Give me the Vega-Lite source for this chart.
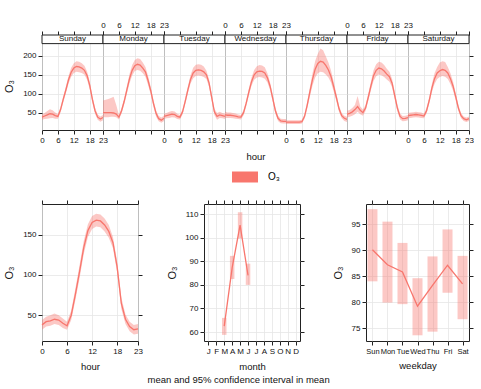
{
"$schema":"https://vega.github.io/schema/vega-lite/v6.json",
"padding":{"left":3,"top":20,"right":0,"bottom":0},
"config":{"font":"Liberation Sans","view":{"stroke":"#222","strokeWidth":1},
"axis":{"domain":false,"tickColor":"#222","tickSize":4,"labelFontSize":8,"labelColor":"#111","titleFontSize":9.5,"titleFontWeight":"normal","titleColor":"#111","grid":false,"gridColor":"#e6e6e6","gridWidth":0.8,"labelOverlap":false,"labelBound":false,"labelFlush":false,"labelPadding":2},
"axisY":{"titleFontSize":11}},
"datasets":{
"dh":[
{"d":"Sunday","h":0,"m":38,"lo":31,"hi":45},{"d":"Sunday","h":1,"m":41,"lo":33,"hi":49},{"d":"Sunday","h":2,"m":44,"lo":34,"hi":54},{"d":"Sunday","h":3,"m":47,"lo":35,"hi":59},{"d":"Sunday","h":4,"m":46,"lo":36,"hi":56},{"d":"Sunday","h":5,"m":42,"lo":34,"hi":50},{"d":"Sunday","h":6,"m":40,"lo":34,"hi":46},{"d":"Sunday","h":7,"m":58,"lo":51,"hi":65},{"d":"Sunday","h":8,"m":85,"lo":77,"hi":93},{"d":"Sunday","h":9,"m":110,"lo":101,"hi":119},{"d":"Sunday","h":10,"m":137,"lo":127,"hi":147},{"d":"Sunday","h":11,"m":157,"lo":145,"hi":169},{"d":"Sunday","h":12,"m":168,"lo":155,"hi":181},{"d":"Sunday","h":13,"m":172,"lo":158,"hi":186},{"d":"Sunday","h":14,"m":171,"lo":157,"hi":185},{"d":"Sunday","h":15,"m":168,"lo":155,"hi":181},{"d":"Sunday","h":16,"m":162,"lo":150,"hi":174},{"d":"Sunday","h":17,"m":148,"lo":137,"hi":159},{"d":"Sunday","h":18,"m":122,"lo":112,"hi":132},{"d":"Sunday","h":19,"m":85,"lo":76,"hi":94},{"d":"Sunday","h":20,"m":55,"lo":47,"hi":63},{"d":"Sunday","h":21,"m":38,"lo":31,"hi":45},{"d":"Sunday","h":22,"m":33,"lo":26,"hi":40},{"d":"Sunday","h":23,"m":37,"lo":30,"hi":44},
{"d":"Monday","h":0,"m":50,"lo":38,"hi":82},{"d":"Monday","h":1,"m":50,"lo":38,"hi":84},{"d":"Monday","h":2,"m":50,"lo":38,"hi":86},{"d":"Monday","h":3,"m":50,"lo":39,"hi":89},{"d":"Monday","h":4,"m":49,"lo":39,"hi":92},{"d":"Monday","h":5,"m":46,"lo":38,"hi":70},{"d":"Monday","h":6,"m":38,"lo":32,"hi":44},{"d":"Monday","h":7,"m":55,"lo":48,"hi":62},{"d":"Monday","h":8,"m":80,"lo":72,"hi":88},{"d":"Monday","h":9,"m":110,"lo":100,"hi":120},{"d":"Monday","h":10,"m":140,"lo":128,"hi":152},{"d":"Monday","h":11,"m":162,"lo":148,"hi":176},{"d":"Monday","h":12,"m":174,"lo":160,"hi":189},{"d":"Monday","h":13,"m":178,"lo":163,"hi":194},{"d":"Monday","h":14,"m":176,"lo":161,"hi":192},{"d":"Monday","h":15,"m":168,"lo":154,"hi":183},{"d":"Monday","h":16,"m":158,"lo":145,"hi":171},{"d":"Monday","h":17,"m":135,"lo":123,"hi":147},{"d":"Monday","h":18,"m":108,"lo":98,"hi":118},{"d":"Monday","h":19,"m":75,"lo":66,"hi":84},{"d":"Monday","h":20,"m":48,"lo":40,"hi":56},{"d":"Monday","h":21,"m":34,"lo":27,"hi":41},{"d":"Monday","h":22,"m":30,"lo":23,"hi":37},{"d":"Monday","h":23,"m":35,"lo":28,"hi":42},
{"d":"Tuesday","h":0,"m":40,"lo":33,"hi":47},{"d":"Tuesday","h":1,"m":42,"lo":35,"hi":49},{"d":"Tuesday","h":2,"m":44,"lo":36,"hi":52},{"d":"Tuesday","h":3,"m":46,"lo":38,"hi":54},{"d":"Tuesday","h":4,"m":45,"lo":37,"hi":53},{"d":"Tuesday","h":5,"m":40,"lo":33,"hi":47},{"d":"Tuesday","h":6,"m":38,"lo":32,"hi":44},{"d":"Tuesday","h":7,"m":52,"lo":45,"hi":59},{"d":"Tuesday","h":8,"m":80,"lo":72,"hi":88},{"d":"Tuesday","h":9,"m":110,"lo":101,"hi":119},{"d":"Tuesday","h":10,"m":138,"lo":127,"hi":149},{"d":"Tuesday","h":11,"m":155,"lo":141,"hi":169},{"d":"Tuesday","h":12,"m":162,"lo":147,"hi":177},{"d":"Tuesday","h":13,"m":163,"lo":148,"hi":178},{"d":"Tuesday","h":14,"m":162,"lo":147,"hi":177},{"d":"Tuesday","h":15,"m":158,"lo":144,"hi":172},{"d":"Tuesday","h":16,"m":150,"lo":139,"hi":161},{"d":"Tuesday","h":17,"m":128,"lo":118,"hi":138},{"d":"Tuesday","h":18,"m":90,"lo":81,"hi":99},{"d":"Tuesday","h":19,"m":52,"lo":44,"hi":60},{"d":"Tuesday","h":20,"m":40,"lo":31,"hi":49},{"d":"Tuesday","h":21,"m":44,"lo":36,"hi":52},{"d":"Tuesday","h":22,"m":42,"lo":35,"hi":49},{"d":"Tuesday","h":23,"m":40,"lo":33,"hi":47},
{"d":"Wednesday","h":0,"m":44,"lo":36,"hi":52},{"d":"Wednesday","h":1,"m":43,"lo":36,"hi":50},{"d":"Wednesday","h":2,"m":43,"lo":36,"hi":50},{"d":"Wednesday","h":3,"m":42,"lo":35,"hi":49},{"d":"Wednesday","h":4,"m":41,"lo":34,"hi":48},{"d":"Wednesday","h":5,"m":39,"lo":33,"hi":45},{"d":"Wednesday","h":6,"m":38,"lo":32,"hi":44},{"d":"Wednesday","h":7,"m":50,"lo":43,"hi":57},{"d":"Wednesday","h":8,"m":75,"lo":67,"hi":83},{"d":"Wednesday","h":9,"m":105,"lo":96,"hi":114},{"d":"Wednesday","h":10,"m":132,"lo":121,"hi":143},{"d":"Wednesday","h":11,"m":150,"lo":137,"hi":163},{"d":"Wednesday","h":12,"m":158,"lo":143,"hi":173},{"d":"Wednesday","h":13,"m":160,"lo":144,"hi":176},{"d":"Wednesday","h":14,"m":159,"lo":143,"hi":175},{"d":"Wednesday","h":15,"m":155,"lo":140,"hi":170},{"d":"Wednesday","h":16,"m":142,"lo":130,"hi":154},{"d":"Wednesday","h":17,"m":120,"lo":110,"hi":130},{"d":"Wednesday","h":18,"m":88,"lo":79,"hi":97},{"d":"Wednesday","h":19,"m":55,"lo":47,"hi":63},{"d":"Wednesday","h":20,"m":35,"lo":28,"hi":42},{"d":"Wednesday","h":21,"m":28,"lo":22,"hi":34},{"d":"Wednesday","h":22,"m":27,"lo":21,"hi":33},{"d":"Wednesday","h":23,"m":27,"lo":21,"hi":33},
{"d":"Thursday","h":0,"m":25,"lo":20,"hi":30},{"d":"Thursday","h":1,"m":25,"lo":20,"hi":30},{"d":"Thursday","h":2,"m":25,"lo":20,"hi":30},{"d":"Thursday","h":3,"m":25,"lo":20,"hi":30},{"d":"Thursday","h":4,"m":25,"lo":20,"hi":30},{"d":"Thursday","h":5,"m":25,"lo":20,"hi":30},{"d":"Thursday","h":6,"m":26,"lo":21,"hi":31},{"d":"Thursday","h":7,"m":40,"lo":34,"hi":46},{"d":"Thursday","h":8,"m":70,"lo":61,"hi":79},{"d":"Thursday","h":9,"m":105,"lo":93,"hi":117},{"d":"Thursday","h":10,"m":138,"lo":122,"hi":154},{"d":"Thursday","h":11,"m":165,"lo":143,"hi":187},{"d":"Thursday","h":12,"m":180,"lo":154,"hi":206},{"d":"Thursday","h":13,"m":186,"lo":158,"hi":220},{"d":"Thursday","h":14,"m":184,"lo":157,"hi":215},{"d":"Thursday","h":15,"m":175,"lo":151,"hi":199},{"d":"Thursday","h":16,"m":163,"lo":143,"hi":183},{"d":"Thursday","h":17,"m":145,"lo":129,"hi":161},{"d":"Thursday","h":18,"m":118,"lo":105,"hi":131},{"d":"Thursday","h":19,"m":90,"lo":80,"hi":100},{"d":"Thursday","h":20,"m":60,"lo":52,"hi":68},{"d":"Thursday","h":21,"m":42,"lo":35,"hi":49},{"d":"Thursday","h":22,"m":35,"lo":28,"hi":42},{"d":"Thursday","h":23,"m":32,"lo":25,"hi":39},
{"d":"Friday","h":0,"m":46,"lo":37,"hi":55},{"d":"Friday","h":1,"m":48,"lo":39,"hi":57},{"d":"Friday","h":2,"m":52,"lo":42,"hi":62},{"d":"Friday","h":3,"m":58,"lo":46,"hi":70},{"d":"Friday","h":4,"m":66,"lo":52,"hi":94},{"d":"Friday","h":5,"m":56,"lo":46,"hi":66},{"d":"Friday","h":6,"m":50,"lo":42,"hi":58},{"d":"Friday","h":7,"m":62,"lo":54,"hi":70},{"d":"Friday","h":8,"m":90,"lo":81,"hi":99},{"d":"Friday","h":9,"m":120,"lo":109,"hi":131},{"d":"Friday","h":10,"m":148,"lo":134,"hi":162},{"d":"Friday","h":11,"m":162,"lo":146,"hi":178},{"d":"Friday","h":12,"m":168,"lo":151,"hi":185},{"d":"Friday","h":13,"m":166,"lo":149,"hi":183},{"d":"Friday","h":14,"m":160,"lo":144,"hi":176},{"d":"Friday","h":15,"m":152,"lo":138,"hi":166},{"d":"Friday","h":16,"m":145,"lo":132,"hi":158},{"d":"Friday","h":17,"m":128,"lo":117,"hi":139},{"d":"Friday","h":18,"m":95,"lo":85,"hi":105},{"d":"Friday","h":19,"m":62,"lo":53,"hi":71},{"d":"Friday","h":20,"m":40,"lo":32,"hi":48},{"d":"Friday","h":21,"m":34,"lo":27,"hi":41},{"d":"Friday","h":22,"m":35,"lo":28,"hi":42},{"d":"Friday","h":23,"m":37,"lo":30,"hi":44},
{"d":"Saturday","h":0,"m":42,"lo":35,"hi":49},{"d":"Saturday","h":1,"m":43,"lo":36,"hi":50},{"d":"Saturday","h":2,"m":44,"lo":37,"hi":51},{"d":"Saturday","h":3,"m":45,"lo":38,"hi":52},{"d":"Saturday","h":4,"m":44,"lo":37,"hi":51},{"d":"Saturday","h":5,"m":43,"lo":36,"hi":50},{"d":"Saturday","h":6,"m":41,"lo":35,"hi":47},{"d":"Saturday","h":7,"m":55,"lo":48,"hi":62},{"d":"Saturday","h":8,"m":82,"lo":74,"hi":90},{"d":"Saturday","h":9,"m":115,"lo":104,"hi":126},{"d":"Saturday","h":10,"m":140,"lo":126,"hi":154},{"d":"Saturday","h":11,"m":155,"lo":139,"hi":171},{"d":"Saturday","h":12,"m":161,"lo":144,"hi":183},{"d":"Saturday","h":13,"m":164,"lo":147,"hi":186},{"d":"Saturday","h":14,"m":162,"lo":145,"hi":184},{"d":"Saturday","h":15,"m":155,"lo":139,"hi":171},{"d":"Saturday","h":16,"m":140,"lo":126,"hi":154},{"d":"Saturday","h":17,"m":120,"lo":108,"hi":132},{"d":"Saturday","h":18,"m":92,"lo":83,"hi":101},{"d":"Saturday","h":19,"m":62,"lo":54,"hi":70},{"d":"Saturday","h":20,"m":42,"lo":35,"hi":49},{"d":"Saturday","h":21,"m":34,"lo":28,"hi":40},{"d":"Saturday","h":22,"m":31,"lo":25,"hi":37},{"d":"Saturday","h":23,"m":34,"lo":28,"hi":40}
],
"hr":[
{"h":0,"m":38,"lo":32,"hi":44},{"h":1,"m":42,"lo":36,"hi":48},{"h":2,"m":43,"lo":37,"hi":50},{"h":3,"m":45,"lo":39,"hi":52},{"h":4,"m":44,"lo":38,"hi":50},{"h":5,"m":40,"lo":34,"hi":46},{"h":6,"m":37,"lo":32,"hi":42},{"h":7,"m":50,"lo":44,"hi":56},{"h":8,"m":76,"lo":69,"hi":83},{"h":9,"m":104,"lo":96,"hi":112},{"h":10,"m":134,"lo":126,"hi":142},{"h":11,"m":155,"lo":147,"hi":163},{"h":12,"m":165,"lo":157,"hi":173},{"h":13,"m":168,"lo":160,"hi":176},{"h":14,"m":167,"lo":159,"hi":175},{"h":15,"m":162,"lo":154,"hi":170},{"h":16,"m":154,"lo":146,"hi":162},{"h":17,"m":140,"lo":133,"hi":147},{"h":18,"m":110,"lo":103,"hi":117},{"h":19,"m":65,"lo":58,"hi":72},{"h":20,"m":45,"lo":39,"hi":51},{"h":21,"m":36,"lo":30,"hi":42},{"h":22,"m":32,"lo":26,"hi":38},{"h":23,"m":33,"lo":27,"hi":39}
],
"mo":[
{"mo":"Mar","m":62.5,"lo":58.8,"hi":66},{"mo":"Apr","m":87.3,"lo":82.5,"hi":92.3},{"mo":"May","m":105.3,"lo":99.7,"hi":110.8},{"mo":"Jun","m":84,"lo":80,"hi":89}
],
"wk":[
{"wd":"Sun","m":90.1,"lo":84,"hi":97.9},{"wd":"Mon","m":87.2,"lo":79.9,"hi":95.5},{"wd":"Tue","m":85.8,"lo":79.6,"hi":91.4},{"wd":"Wed","m":79.2,"lo":73.6,"hi":84.6},{"wd":"Thu","m":83.2,"lo":74.3,"hi":88.8},{"wd":"Fri","m":87.1,"lo":81.8,"hi":94},{"wd":"Sat","m":83.5,"lo":76.7,"hi":88.9}
]},
"title":{"text":"mean and 95% confidence interval in mean","orient":"bottom","anchor":"middle","fontSize":9.5,"fontWeight":"normal","color":"#111","offset":4},
"spacing":37,
"vconcat":[
{"hconcat":[
{"width":61,"height":95,"resolve":{"axis":{"x":"independent","y":"independent"}},"layer":[
{"data":{"name":"dh"},"transform":[{"filter":"datum.d==='Sunday'"}],"mark":{"type":"area","opacity":0.4},"encoding":{"x":{"field":"h","type":"quantitative","scale":{"domain":[0,23],"nice":false,"zero":false},"axis":{"orient":"bottom","values":[0,6,12,18,23],"grid":true,"labels":true,"title":null}},"y":{"field":"lo","type":"quantitative","scale":{"domain":[4,255.5],"nice":false,"zero":false},"axis":{"orient":"left","values":[50,100,150,200],"grid":true,"title":"O₃","titlePadding":8,"titleY":51}},"y2":{"field":"hi"},"color":{"datum":"O₃","type":"nominal","scale":{"range":["#F8766D"]},"legend":{"title":null,"orient":"none","legendX":193,"legendY":132,"symbolType":"M-1.3,-0.55H1.3V0.55H-1.3Z","symbolSize":400,"symbolOpacity":1,"symbolStrokeWidth":0,"labelFontSize":10,"labelOffset":13}}}},
{"data":{"name":"dh"},"transform":[{"filter":"datum.d==='Sunday'"}],"mark":{"type":"line","color":"#F8766D","strokeWidth":1.3},"encoding":{"x":{"field":"h","type":"quantitative","axis":{"orient":"top","values":[0,6,12,18,23],"labels":false,"title":null}},"y":{"field":"m","type":"quantitative","axis":null}}},
{"data":{"values":[{"t":"Sunday"}]},"mark":{"type":"rect","fill":"#fff","stroke":"#222","strokeWidth":1},"encoding":{"x":{"datum":0,"type":"quantitative","axis":null},"x2":{"datum":23},"y":{"datum":232.7,"type":"quantitative","axis":null},"y2":{"datum":255.5}}},
{"data":{"values":[{"t":"Sunday"}]},"mark":{"type":"text","fontSize":8,"color":"#111"},"encoding":{"x":{"datum":11.5,"type":"quantitative","axis":null},"y":{"datum":244,"type":"quantitative","axis":null},"text":{"field":"t"}}}
]},
{"width":61,"height":95,"resolve":{"axis":{"x":"independent","y":"independent"}},"layer":[
{"data":{"name":"dh"},"transform":[{"filter":"datum.d==='Monday'"}],"mark":{"type":"area","opacity":0.4,"color":"#F8766D"},"encoding":{"x":{"field":"h","type":"quantitative","scale":{"domain":[0,23],"nice":false,"zero":false},"axis":{"orient":"bottom","values":[0,6,12,18,23],"grid":true,"labels":false,"title":null}},"y":{"field":"lo","type":"quantitative","scale":{"domain":[4,255.5],"nice":false,"zero":false},"axis":{"orient":"left","values":[50,100,150,200],"grid":true,"labels":false,"ticks":false,"title":null}},"y2":{"field":"hi"}}},
{"data":{"name":"dh"},"transform":[{"filter":"datum.d==='Monday'"}],"mark":{"type":"line","color":"#F8766D","strokeWidth":1.3},"encoding":{"x":{"field":"h","type":"quantitative","axis":{"orient":"top","values":[0,6,12,18,23],"labels":true,"title":null}},"y":{"field":"m","type":"quantitative","axis":null}}},
{"data":{"values":[{"t":"Monday"}]},"mark":{"type":"rect","fill":"#fff","stroke":"#222","strokeWidth":1},"encoding":{"x":{"datum":0,"type":"quantitative","axis":null},"x2":{"datum":23},"y":{"datum":232.7,"type":"quantitative","axis":null},"y2":{"datum":255.5}}},
{"data":{"values":[{"t":"Monday"}]},"mark":{"type":"text","fontSize":8,"color":"#111"},"encoding":{"x":{"datum":11.5,"type":"quantitative","axis":null},"y":{"datum":244,"type":"quantitative","axis":null},"text":{"field":"t"}}}
]},
{"width":61,"height":95,"resolve":{"axis":{"x":"independent","y":"independent"}},"layer":[
{"data":{"name":"dh"},"transform":[{"filter":"datum.d==='Tuesday'"}],"mark":{"type":"area","opacity":0.4,"color":"#F8766D"},"encoding":{"x":{"field":"h","type":"quantitative","scale":{"domain":[0,23],"nice":false,"zero":false},"axis":{"orient":"bottom","values":[0,6,12,18,23],"grid":true,"labels":true,"title":null}},"y":{"field":"lo","type":"quantitative","scale":{"domain":[4,255.5],"nice":false,"zero":false},"axis":{"orient":"left","values":[50,100,150,200],"grid":true,"labels":false,"ticks":false,"title":null}},"y2":{"field":"hi"}}},
{"data":{"name":"dh"},"transform":[{"filter":"datum.d==='Tuesday'"}],"mark":{"type":"line","color":"#F8766D","strokeWidth":1.3},"encoding":{"x":{"field":"h","type":"quantitative","axis":{"orient":"top","values":[0,6,12,18,23],"labels":false,"title":null}},"y":{"field":"m","type":"quantitative","axis":null}}},
{"data":{"values":[{"t":"Tuesday"}]},"mark":{"type":"rect","fill":"#fff","stroke":"#222","strokeWidth":1},"encoding":{"x":{"datum":0,"type":"quantitative","axis":null},"x2":{"datum":23},"y":{"datum":232.7,"type":"quantitative","axis":null},"y2":{"datum":255.5}}},
{"data":{"values":[{"t":"Tuesday"}]},"mark":{"type":"text","fontSize":8,"color":"#111"},"encoding":{"x":{"datum":11.5,"type":"quantitative","axis":null},"y":{"datum":244,"type":"quantitative","axis":null},"text":{"field":"t"}}}
]},
{"width":61,"height":95,"resolve":{"axis":{"x":"independent","y":"independent"}},"layer":[
{"data":{"name":"dh"},"transform":[{"filter":"datum.d==='Wednesday'"}],"mark":{"type":"area","opacity":0.4,"color":"#F8766D"},"encoding":{"x":{"field":"h","type":"quantitative","scale":{"domain":[0,23],"nice":false,"zero":false},"axis":{"orient":"bottom","values":[0,6,12,18,23],"grid":true,"labels":false,"title":"hour","titlePadding":17}},"y":{"field":"lo","type":"quantitative","scale":{"domain":[4,255.5],"nice":false,"zero":false},"axis":{"orient":"left","values":[50,100,150,200],"grid":true,"labels":false,"ticks":false,"title":null}},"y2":{"field":"hi"}}},
{"data":{"name":"dh"},"transform":[{"filter":"datum.d==='Wednesday'"}],"mark":{"type":"line","color":"#F8766D","strokeWidth":1.3},"encoding":{"x":{"field":"h","type":"quantitative","axis":{"orient":"top","values":[0,6,12,18,23],"labels":true,"title":null}},"y":{"field":"m","type":"quantitative","axis":null}}},
{"data":{"values":[{"t":"Wednesday"}]},"mark":{"type":"rect","fill":"#fff","stroke":"#222","strokeWidth":1},"encoding":{"x":{"datum":0,"type":"quantitative","axis":null},"x2":{"datum":23},"y":{"datum":232.7,"type":"quantitative","axis":null},"y2":{"datum":255.5}}},
{"data":{"values":[{"t":"Wednesday"}]},"mark":{"type":"text","fontSize":8,"color":"#111"},"encoding":{"x":{"datum":11.5,"type":"quantitative","axis":null},"y":{"datum":244,"type":"quantitative","axis":null},"text":{"field":"t"}}}
]},
{"width":61,"height":95,"resolve":{"axis":{"x":"independent","y":"independent"}},"layer":[
{"data":{"name":"dh"},"transform":[{"filter":"datum.d==='Thursday'"}],"mark":{"type":"area","opacity":0.4,"color":"#F8766D"},"encoding":{"x":{"field":"h","type":"quantitative","scale":{"domain":[0,23],"nice":false,"zero":false},"axis":{"orient":"bottom","values":[0,6,12,18,23],"grid":true,"labels":true,"title":null}},"y":{"field":"lo","type":"quantitative","scale":{"domain":[4,255.5],"nice":false,"zero":false},"axis":{"orient":"left","values":[50,100,150,200],"grid":true,"labels":false,"ticks":false,"title":null}},"y2":{"field":"hi"}}},
{"data":{"name":"dh"},"transform":[{"filter":"datum.d==='Thursday'"}],"mark":{"type":"line","color":"#F8766D","strokeWidth":1.3},"encoding":{"x":{"field":"h","type":"quantitative","axis":{"orient":"top","values":[0,6,12,18,23],"labels":false,"title":null}},"y":{"field":"m","type":"quantitative","axis":null}}},
{"data":{"values":[{"t":"Thursday"}]},"mark":{"type":"rect","fill":"#fff","stroke":"#222","strokeWidth":1},"encoding":{"x":{"datum":0,"type":"quantitative","axis":null},"x2":{"datum":23},"y":{"datum":232.7,"type":"quantitative","axis":null},"y2":{"datum":255.5}}},
{"data":{"values":[{"t":"Thursday"}]},"mark":{"type":"text","fontSize":8,"color":"#111"},"encoding":{"x":{"datum":11.5,"type":"quantitative","axis":null},"y":{"datum":244,"type":"quantitative","axis":null},"text":{"field":"t"}}}
]},
{"width":61,"height":95,"resolve":{"axis":{"x":"independent","y":"independent"}},"layer":[
{"data":{"name":"dh"},"transform":[{"filter":"datum.d==='Friday'"}],"mark":{"type":"area","opacity":0.4,"color":"#F8766D"},"encoding":{"x":{"field":"h","type":"quantitative","scale":{"domain":[0,23],"nice":false,"zero":false},"axis":{"orient":"bottom","values":[0,6,12,18,23],"grid":true,"labels":false,"title":null}},"y":{"field":"lo","type":"quantitative","scale":{"domain":[4,255.5],"nice":false,"zero":false},"axis":{"orient":"left","values":[50,100,150,200],"grid":true,"labels":false,"ticks":false,"title":null}},"y2":{"field":"hi"}}},
{"data":{"name":"dh"},"transform":[{"filter":"datum.d==='Friday'"}],"mark":{"type":"line","color":"#F8766D","strokeWidth":1.3},"encoding":{"x":{"field":"h","type":"quantitative","axis":{"orient":"top","values":[0,6,12,18,23],"labels":true,"title":null}},"y":{"field":"m","type":"quantitative","axis":null}}},
{"data":{"values":[{"t":"Friday"}]},"mark":{"type":"rect","fill":"#fff","stroke":"#222","strokeWidth":1},"encoding":{"x":{"datum":0,"type":"quantitative","axis":null},"x2":{"datum":23},"y":{"datum":232.7,"type":"quantitative","axis":null},"y2":{"datum":255.5}}},
{"data":{"values":[{"t":"Friday"}]},"mark":{"type":"text","fontSize":8,"color":"#111"},"encoding":{"x":{"datum":11.5,"type":"quantitative","axis":null},"y":{"datum":244,"type":"quantitative","axis":null},"text":{"field":"t"}}}
]},
{"width":61,"height":95,"resolve":{"axis":{"x":"independent","y":"independent"}},"layer":[
{"data":{"name":"dh"},"transform":[{"filter":"datum.d==='Saturday'"}],"mark":{"type":"area","opacity":0.4,"color":"#F8766D"},"encoding":{"x":{"field":"h","type":"quantitative","scale":{"domain":[0,23],"nice":false,"zero":false},"axis":{"orient":"bottom","values":[0,6,12,18,23],"grid":true,"labels":true,"title":null}},"y":{"field":"lo","type":"quantitative","scale":{"domain":[4,255.5],"nice":false,"zero":false},"axis":{"orient":"left","values":[50,100,150,200],"grid":true,"labels":false,"ticks":false,"title":null}},"y2":{"field":"hi"}}},
{"data":{"name":"dh"},"transform":[{"filter":"datum.d==='Saturday'"}],"mark":{"type":"line","color":"#F8766D","strokeWidth":1.3},"encoding":{"x":{"field":"h","type":"quantitative","axis":{"orient":"top","values":[0,6,12,18,23],"labels":false,"title":null}},"y":{"field":"m","type":"quantitative","axis":{"orient":"right","values":[50,100,150,200],"labels":false,"title":null}}}},
{"data":{"values":[{"t":"Saturday"}]},"mark":{"type":"rect","fill":"#fff","stroke":"#222","strokeWidth":1},"encoding":{"x":{"datum":0,"type":"quantitative","axis":null},"x2":{"datum":23},"y":{"datum":232.7,"type":"quantitative","axis":null},"y2":{"datum":255.5}}},
{"data":{"values":[{"t":"Saturday"}]},"mark":{"type":"text","fontSize":8,"color":"#111"},"encoding":{"x":{"datum":11.5,"type":"quantitative","axis":null},"y":{"datum":244,"type":"quantitative","axis":null},"text":{"field":"t"}}}
]}
],"spacing":0,"bounds":"flush"},
{"hconcat":[
{"width":96,"height":137,"data":{"name":"hr"},"resolve":{"axis":{"x":"independent","y":"independent"}},"layer":[
{"mark":{"type":"area","opacity":0.4,"color":"#F8766D"},"encoding":{"x":{"field":"h","type":"quantitative","scale":{"domain":[0,23],"nice":false,"zero":false},"axis":{"orient":"bottom","values":[0,6,12,18,23],"grid":true,"title":"hour","titlePadding":6}},"y":{"field":"lo","type":"quantitative","scale":{"domain":[18,188],"nice":false,"zero":false},"axis":{"orient":"left","values":[50,100,150],"grid":true,"title":"O₃","titlePadding":8}},"y2":{"field":"hi"}}},
{"mark":{"type":"line","color":"#F8766D","strokeWidth":1.3},"encoding":{"x":{"field":"h","type":"quantitative","axis":{"orient":"top","values":[0,6,12,18,23],"labels":false,"title":null}},"y":{"field":"m","type":"quantitative","axis":{"orient":"right","values":[50,100,150],"labels":false,"title":null}}}}
]},
{"width":96,"height":137,"data":{"name":"mo"},"resolve":{"axis":{"x":"independent","y":"independent"}},"layer":[
{"mark":{"type":"bar","opacity":0.4,"color":"#F8766D","size":4.5},"encoding":{"x":{"field":"mo","type":"ordinal","scale":{"type":"point","domain":["Jan","Feb","Mar","Apr","May","Jun","Jul","Aug","Sep","Oct","Nov","Dec"],"padding":0.55},"axis":{"orient":"bottom","grid":true,"labelExpr":"slice(datum.label,0,1)","labelAngle":0,"title":"month","titlePadding":6}},"y":{"field":"lo","type":"quantitative","scale":{"domain":[56.2,114.3],"nice":false,"zero":false},"axis":{"orient":"left","values":[60,70,80,90,100,110],"grid":true,"title":"O₃","titlePadding":7}},"y2":{"field":"hi"}}},
{"mark":{"type":"line","color":"#F8766D","strokeWidth":1.3},"encoding":{"x":{"field":"mo","type":"ordinal","sort":null,"axis":{"orient":"top","labels":false,"title":null}},"y":{"field":"m","type":"quantitative","axis":{"orient":"right","values":[60,70,80,90,100,110],"labels":false,"title":null}}}}
]},
{"width":103,"height":137,"data":{"name":"wk"},"resolve":{"axis":{"x":"independent","y":"independent"}},"layer":[
{"mark":{"type":"bar","opacity":0.4,"color":"#F8766D","size":10},"encoding":{"x":{"field":"wd","type":"ordinal","scale":{"type":"point","domain":["Sun","Mon","Tue","Wed","Thu","Fri","Sat"],"padding":0.43},"axis":{"orient":"bottom","grid":true,"labelAngle":0,"labelFontSize":7.5,"title":"weekday","titlePadding":6}},"y":{"field":"lo","type":"quantitative","scale":{"domain":[72.5,98.9],"nice":false,"zero":false},"axis":{"orient":"left","values":[75,80,85,90,95],"grid":true,"title":"O₃","titlePadding":8}},"y2":{"field":"hi"}}},
{"mark":{"type":"line","color":"#F8766D","strokeWidth":1.3},"encoding":{"x":{"field":"wd","type":"ordinal","sort":null,"axis":{"orient":"top","labels":false,"title":null}},"y":{"field":"m","type":"quantitative","axis":{"orient":"right","values":[75,80,85,90,95],"labels":false,"title":null}}}}
]}
],"spacing":66,"bounds":"flush"}
]
}
